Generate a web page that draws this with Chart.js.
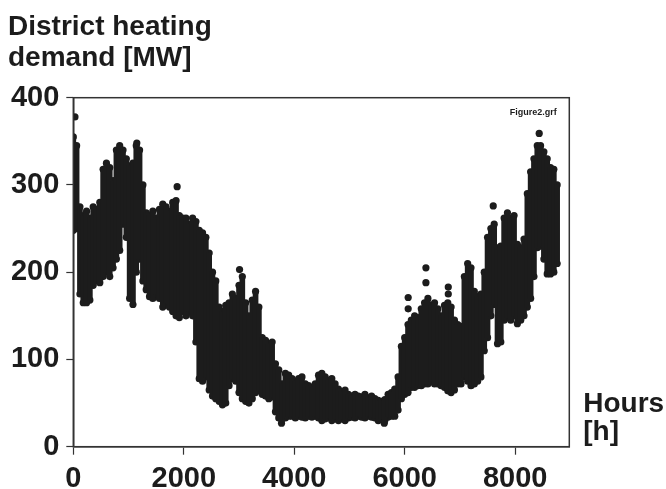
<!DOCTYPE html>
<html>
<head>
<meta charset="utf-8">
<script src="https://cdn.jsdelivr.net/npm/chart.js@4.4.0/dist/chart.umd.min.js"></script>
<style>
  html, body { margin: 0; padding: 0; background: #fff; }
  canvas { display: block; }
</style>
</head>
<body>
<canvas id="heatDemand" width="666" height="489"></canvas>
<script>
const hours = [
  0, 60, 120, 180, 240, 300, 360, 420, 480, 540, 600, 660, 720, 780, 840, 900, 960, 1020, 1080, 1140,
  1200, 1260, 1320, 1380, 1440, 1500, 1560, 1620, 1680, 1740, 1800, 1860, 1920, 1980, 2040, 2100, 2160, 2220, 2280, 2340,
  2400, 2460, 2520, 2580, 2640, 2700, 2760, 2820, 2880, 2940, 3000, 3060, 3120, 3180, 3240, 3300, 3360, 3420, 3480, 3540,
  3600, 3660, 3720, 3780, 3840, 3900, 3960, 4020, 4080, 4140, 4200, 4260, 4320, 4380, 4440, 4500, 4560, 4620, 4680, 4740,
  4800, 4860, 4920, 4980, 5040, 5100, 5160, 5220, 5280, 5340, 5400, 5460, 5520, 5580, 5640, 5700, 5760, 5820, 5880, 5940,
  6000, 6060, 6120, 6180, 6240, 6300, 6360, 6420, 6480, 6540, 6600, 6660, 6720, 6780, 6840, 6900, 6960, 7020, 7080, 7140,
  7200, 7260, 7320, 7380, 7440, 7500, 7560, 7620, 7680, 7740, 7800, 7860, 7920, 7980, 8040, 8100, 8160, 8220, 8280, 8340,
  8400, 8460, 8520, 8580, 8640, 8700, 8760
];
const demandHigh = [
  355, 345, 275, 265, 270, 262, 275, 272, 280, 318, 325, 320, 305, 340, 345, 340, 330, 322, 325, 345,
  340, 300, 268, 265, 270, 262, 272, 278, 275, 270, 280, 282, 265, 262, 262, 255, 262, 258, 248, 245,
  240, 222, 200, 190, 160, 155, 162, 165, 175, 170, 185, 195, 165, 150, 168, 178, 160, 125, 122, 118,
  120, 95, 88, 72, 84, 82, 78, 75, 78, 80, 72, 70, 68, 72, 82, 84, 80, 76, 78, 72,
  66, 63, 65, 60, 58, 60, 58, 57, 60, 56, 58, 55, 53, 52, 54, 60, 62, 66, 80, 115,
  125, 140, 145, 150, 148, 158, 165, 170, 162, 165, 158, 150, 162, 165, 160, 145, 140, 138, 195, 210,
  205, 178, 172, 175, 200, 240, 250, 255, 228, 230, 262, 268, 262, 265, 232, 228, 238, 290, 315, 330,
  345, 345, 338, 330, 320, 318, 300
];
const demandLow = [
  248, 250, 175, 165, 165, 168, 185, 190, 188, 195, 200, 195, 205, 215, 225, 255, 240, 170, 163, 200,
  215, 190, 180, 172, 170, 175, 170, 160, 165, 160, 155, 150, 148, 155, 150, 155, 150, 120, 78, 75,
  80, 65, 58, 55, 52, 48, 50, 70, 78, 75, 62, 55, 52, 50, 55, 62, 65, 60, 58, 55,
  57, 40, 33, 32, 33, 35, 35, 33, 35, 34, 33, 35, 34, 35, 33, 30, 32, 33, 30, 32,
  30, 32, 30, 33, 34, 33, 35, 34, 33, 35, 34, 33, 30, 32, 30, 34, 35, 35, 42, 55,
  60, 62, 68, 68, 70, 70, 72, 72, 75, 72, 72, 70, 68, 64, 62, 65, 72, 72, 80, 75,
  70, 72, 75, 80, 110, 125, 150, 163, 118, 120, 145, 148, 145, 150, 141, 145, 150, 160, 170, 195,
  228, 230, 215, 198, 198, 200, 210
];
// single hours standing clear of the band
const outlierHours = [30, 1150, 1880, 3010, 3770, 5630, 6063, 6063, 6384, 6384, 6789, 6789, 7603, 8435];
const outlierValues = [378, 348, 298, 203, 27, 27, 171, 158, 205, 188, 183, 175, 276, 359];

const xTickValues = [0, 2000, 4000, 6000, 8000];
const yTickValues = [0, 100, 200, 300, 400];

const ink = '#1c1c1c';
Chart.defaults.font.family = 'Liberation Sans';
Chart.defaults.color = ink;

const frameAndText = {
  id: 'frameAndText',
  beforeDraw(chart) {
    const ctx = chart.ctx;
    ctx.save();
    ctx.fillStyle = '#fff';
    ctx.fillRect(0, 0, chart.width, chart.height);
    ctx.restore();
  },
  afterDraw(chart) {
    const { ctx, chartArea: a } = chart;
    ctx.save();
    ctx.strokeStyle = '#333';
    ctx.lineWidth = 1.5;
    ctx.strokeRect(a.left, a.top, a.right - a.left, a.bottom - a.top);
    ctx.fillStyle = ink;
    ctx.textAlign = 'left';
    ctx.textBaseline = 'alphabetic';
    ctx.font = 'bold 28px "Liberation Sans"';
    ctx.fillText('District heating', 8, 35);
    ctx.fillText('demand [MW]', 8, 66);
    ctx.fillText('Hours', a.right + 14, 412);
    ctx.fillText('[h]', a.right + 14, 440);
    ctx.font = 'bold 9px "Liberation Sans"';
    ctx.textAlign = 'center';
    ctx.fillText('Figure2.grf', a.right - 36, a.top + 17);
    ctx.restore();
  }
};

const dot = {
  type: 'line',
  showLine: false,
  pointRadius: 3.6,
  pointBackgroundColor: ink,
  pointBorderWidth: 0,
};

new Chart(document.getElementById('heatDemand'), {
  type: 'bar',
  plugins: [frameAndText],
  data: {
    datasets: [
      {
        data: hours.map((h, i) => ({ x: h, y: [demandLow[i], demandHigh[i]] })),
        backgroundColor: ink,
        borderWidth: 0,
        barThickness: 5,
      },
      Object.assign({ data: hours.map((h, i) => ({ x: h, y: demandHigh[i] })) }, dot),
      Object.assign({ data: hours.map((h, i) => ({ x: h, y: demandLow[i] })) }, dot),
      Object.assign({ data: outlierHours.map((h, i) => ({ x: h, y: outlierValues[i] })) }, dot),
    ]
  },
  options: {
    responsive: false,
    animation: false,
    events: [],
    layout: {
      padding: { top: 97.7, right: 96.7, left: 0, bottom: 0 }
    },
    plugins: {
      legend: { display: false },
      tooltip: { enabled: false },
    },
    scales: {
      x: {
        type: 'linear',
        min: 0,
        max: 8980,
        offset: false,
        afterBuildTicks(scale) { scale.ticks = xTickValues.map(v => ({ value: v })); },
        afterFit(scale) { scale.height = 42.3; },
        border: { color: '#333', width: 1.6 },
        grid: {
          offset: false,
          drawOnChartArea: false,
          tickLength: 8,
          tickColor: '#333',
          tickWidth: 1.2,
        },
        ticks: {
          autoSkip: false,
          maxRotation: 0,
          padding: 7,
          font: { size: 29, weight: 'bold' },
          callback: v => String(v),
        },
      },
      y: {
        min: 0,
        max: 400,
        afterBuildTicks(scale) { scale.ticks = yTickValues.map(v => ({ value: v })); },
        afterFit(scale) { scale.width = 73.3; },
        border: { color: '#333', width: 1.5 },
        grid: {
          drawOnChartArea: false,
          tickLength: 7,
          tickColor: '#333',
          tickWidth: 1.2,
        },
        ticks: {
          autoSkip: false,
          padding: 7,
          font: { size: 29, weight: 'bold' },
          callback: v => String(v),
        },
      },
    },
  },
});
</script>
</body>
</html>
